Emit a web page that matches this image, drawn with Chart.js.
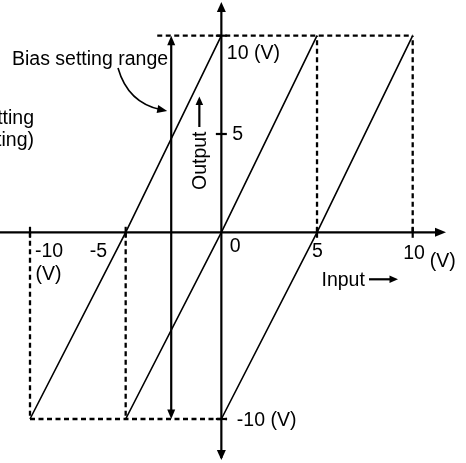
<!DOCTYPE html>
<html>
<head>
<meta charset="utf-8">
<script src="https://cdn.jsdelivr.net/npm/chart.js@4.4.1/dist/chart.umd.min.js"></script>
<style>
  body { margin: 0; background: #fff; }
  #wrap { width: 466px; height: 463px; position: relative; }
</style>
</head>
<body>
<div id="wrap"><canvas id="chart"></canvas></div>
<script>
// Output levels at the ends and middle of each transfer line
const outputLevels = [-10, 0, 10];
// Input values where each line hits -10, 0 and +10 V
const leftLineInput = [-10, -5, 0];
const centerLineInput = [-5, 0, 5];
const rightLineInput = [0, 5, 10];

// Axis ticks
const xTickValues = [-10, -5, 5, 10];
const yTickValues = [-10, 5, 10];

// Dashed guides
const topGuideInput = [-3.35, 10];
const bottomGuideInput = [-10, 0.3];
const lowGuideInputs = [-10, -5];
const highGuideInputs = [5, 10];

// Bias setting range arrow
const biasInput = -2.62;
const biasRange = [-10, 10];

// Lower half of the drawing is a bit compressed in the original
const ZERO_FRAC = 0.5129;

class SplitScale extends Chart.LinearScale {
  getPixelForValue(v) {
    const zero = this.top + (this.bottom - this.top) * ZERO_FRAC;
    if (v >= 0) return zero - (zero - this.top) * v / this.max;
    return zero + (this.bottom - zero) * v / this.min;
  }
}
SplitScale.id = "split";
SplitScale.defaults = Chart.LinearScale.defaults;
Chart.register(SplitScale);

const FONT = '19.5px "Liberation Sans", Arial, sans-serif';

function toPoints(xs, ys) {
  return xs.map((x, i) => ({ x: x, y: ys[i] }));
}

function solid(data) {
  return { data: data, showLine: true, borderColor: "#000", borderWidth: 1.6,
           pointRadius: 0, fill: false, clip: false };
}
function dashed(data) {
  return { data: data, showLine: true, borderColor: "#000", borderWidth: 2.3,
           borderDash: [5, 3.5], pointRadius: 0, fill: false, clip: false };
}

const datasets = [
  solid(toPoints(leftLineInput, outputLevels)),
  solid(toPoints(centerLineInput, outputLevels)),
  solid(toPoints(rightLineInput, outputLevels)),
  dashed(topGuideInput.map(x => ({ x: x, y: 10 }))),
  dashed(bottomGuideInput.map(x => ({ x: x, y: -10 }))),
];
lowGuideInputs.forEach(x => datasets.push(dashed([{ x: x, y: 0 }, { x: x, y: -10 }])));
highGuideInputs.forEach(x => datasets.push(dashed([{ x: x, y: 0 }, { x: x, y: 10 }])));

function arrowHead(ctx, x, y, angle, len, half) {
  ctx.save();
  ctx.translate(x, y);
  ctx.rotate(angle);
  ctx.beginPath();
  ctx.moveTo(0, 0);
  ctx.lineTo(-len, -half);
  ctx.lineTo(-len, half);
  ctx.closePath();
  ctx.fill();
  ctx.restore();
}

function line(ctx, x1, y1, x2, y2, w) {
  ctx.lineWidth = w;
  ctx.beginPath();
  ctx.moveTo(x1, y1);
  ctx.lineTo(x2, y2);
  ctx.stroke();
}

const decorations = {
  id: "decorations",
  afterDatasetsDraw(chart) {
    const ctx = chart.ctx;
    const xs = chart.scales.x, ys = chart.scales.y;
    const px = v => xs.getPixelForValue(v);
    const py = v => ys.getPixelForValue(v);
    const x0 = px(0), y0 = py(0);

    ctx.save();
    ctx.strokeStyle = "#000";
    ctx.fillStyle = "#000";
    ctx.setLineDash([]);

    // axes
    line(ctx, 0, y0, 440, y0, 2.2);
    arrowHead(ctx, 446, y0, 0, 11, 4.5);
    line(ctx, x0, 458, x0, 8, 2.2);
    arrowHead(ctx, x0, 2, -Math.PI / 2, 10, 4.5);
    arrowHead(ctx, x0, 460, Math.PI / 2, 10, 4.5);

    // ticks
    xTickValues.forEach(v => line(ctx, px(v), y0 - 5.5, px(v), y0 + 5.5, 2.2));
    yTickValues.forEach(v => line(ctx, x0 - 5.5, py(v), x0 + 5.5, py(v), 2.2));

    // bias setting range double arrow
    const bx = px(biasInput);
    line(ctx, bx, py(biasRange[1]) + 6, bx, py(biasRange[0]) - 6, 2.2);
    arrowHead(ctx, bx, py(biasRange[1]), -Math.PI / 2, 9.5, 4);
    arrowHead(ctx, bx, py(biasRange[0]), Math.PI / 2, 9.5, 4);

    // curved pointer from the label
    const sx = 118, sy = 68, cx = 128, cy = 103, ex = bx - 4, ey = 111;
    ctx.lineWidth = 1.6;
    ctx.beginPath();
    ctx.moveTo(sx, sy);
    ctx.quadraticCurveTo(cx, cy, ex - 6, ey - 1.2);
    ctx.stroke();
    arrowHead(ctx, ex, ey, Math.atan2(ey - cy, ex - cx), 10, 4);

    // Output arrow
    const ox = x0 - 22;
    line(ctx, ox, 127, ox, 102, 2.2);
    arrowHead(ctx, ox, 96.5, -Math.PI / 2, 8.5, 3.8);

    // Input arrow
    line(ctx, 369, 279.3, 392, 279.3, 2.2);
    arrowHead(ctx, 398, 279.3, 0, 8.5, 3.8);

    // texts
    ctx.font = FONT;
    ctx.textBaseline = "alphabetic";
    ctx.textAlign = "left";
    ctx.fillText("Bias setting range", 12, 65);
    ctx.fillText("10 (V)", x0 + 5.5, 59);
    ctx.fillText("5", x0 + 11, 139.5);
    ctx.fillText("0", x0 + 8.5, 252);
    ctx.fillText("-10", px(-10) + 5, 257);
    ctx.fillText("(V)", px(-10) + 5.5, 279.5);
    ctx.fillText("-5", px(-5) - 36, 257);
    ctx.fillText("5", px(5) - 5, 257);
    ctx.fillText("10", px(10) - 9.5, 259);
    ctx.fillText("(V)", px(10) + 17, 266.5);
    ctx.fillText("Input", 321.5, 286);
    ctx.fillText("-10 (V)", x0 + 15.5, 425.5);

    ctx.textAlign = "right";
    ctx.fillText("Gain setting", 34, 124);
    ctx.fillText("(Initial setting)", 34, 146);

    // vertical "Output"
    ctx.save();
    ctx.translate(x0 - 15.5, 190);
    ctx.rotate(-Math.PI / 2);
    ctx.textAlign = "left";
    ctx.fillText("Output", 0, 0);
    ctx.restore();

    ctx.restore();
  }
};

new Chart(document.getElementById("chart"), {
  type: "scatter",
  data: { datasets: datasets },
  options: {
    responsive: true,
    maintainAspectRatio: false,
    animation: false,
    events: [],
    layout: { padding: { left: 30, right: 53.3, top: 35.7, bottom: 44 } },
    scales: {
      x: { type: "linear", min: -10, max: 10, display: false },
      y: { type: "split", min: -10, max: 10, display: false },
    },
    plugins: {
      legend: { display: false },
      tooltip: { enabled: false },
    },
  },
  plugins: [decorations],
});
</script>
</body>
</html>
